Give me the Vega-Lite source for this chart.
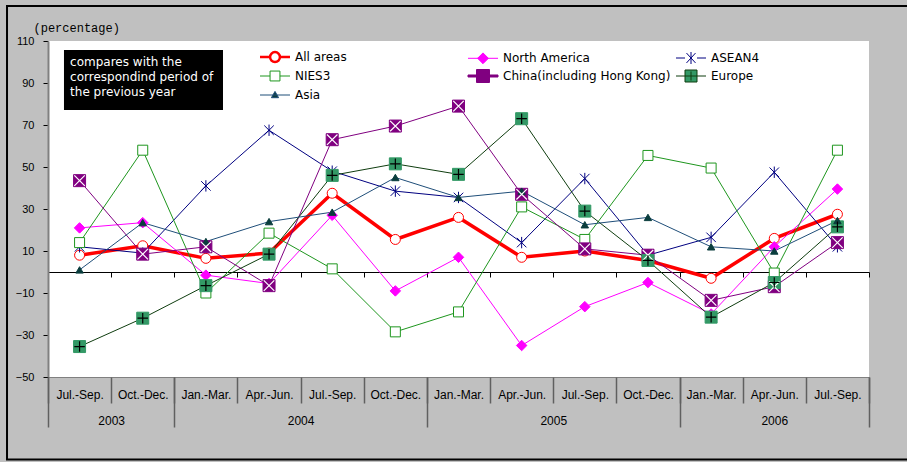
{
  "$schema": "https://vega.github.io/schema/vega-lite/v6.json",
  "width": 821,
  "height": 336,
  "autosize": {"type": "none"},
  "padding": {"left": 48, "top": 41, "right": 38, "bottom": 85},
  "background": "#c0c0c0",
  "config": {
    "view": {"fill": "white", "stroke": null},
    "axis": {"grid": false}
  },
  "data": {
    "values": [
      {"q": 1, "series": "All areas", "value": 8},
      {"q": 2, "series": "All areas", "value": 12.5},
      {"q": 3, "series": "All areas", "value": 6.5},
      {"q": 4, "series": "All areas", "value": 9},
      {"q": 5, "series": "All areas", "value": 37.5},
      {"q": 6, "series": "All areas", "value": 15.5},
      {"q": 7, "series": "All areas", "value": 26},
      {"q": 8, "series": "All areas", "value": 7},
      {"q": 9, "series": "All areas", "value": 10},
      {"q": 10, "series": "All areas", "value": 5.5},
      {"q": 11, "series": "All areas", "value": -3},
      {"q": 12, "series": "All areas", "value": 16},
      {"q": 13, "series": "All areas", "value": 27.5},
      {"q": 1, "series": "North America", "value": 21},
      {"q": 2, "series": "North America", "value": 23.5},
      {"q": 3, "series": "North America", "value": -1.5},
      {"q": 4, "series": "North America", "value": -5.5},
      {"q": 5, "series": "North America", "value": 27},
      {"q": 6, "series": "North America", "value": -9},
      {"q": 7, "series": "North America", "value": 7},
      {"q": 8, "series": "North America", "value": -35},
      {"q": 9, "series": "North America", "value": -16.5},
      {"q": 10, "series": "North America", "value": -5},
      {"q": 11, "series": "North America", "value": -20},
      {"q": 12, "series": "North America", "value": 12},
      {"q": 13, "series": "North America", "value": 39.5},
      {"q": 1, "series": "ASEAN4", "value": 12},
      {"q": 2, "series": "ASEAN4", "value": 9},
      {"q": 3, "series": "ASEAN4", "value": 41},
      {"q": 4, "series": "ASEAN4", "value": 67.5},
      {"q": 5, "series": "ASEAN4", "value": 48},
      {"q": 6, "series": "ASEAN4", "value": 38.5},
      {"q": 7, "series": "ASEAN4", "value": 35.5},
      {"q": 8, "series": "ASEAN4", "value": 14},
      {"q": 9, "series": "ASEAN4", "value": 44.5},
      {"q": 10, "series": "ASEAN4", "value": 8},
      {"q": 11, "series": "ASEAN4", "value": 16.5},
      {"q": 12, "series": "ASEAN4", "value": 47.5},
      {"q": 13, "series": "ASEAN4", "value": 12},
      {"q": 1, "series": "NIES3", "value": 14},
      {"q": 2, "series": "NIES3", "value": 58},
      {"q": 3, "series": "NIES3", "value": -10},
      {"q": 4, "series": "NIES3", "value": 18.5},
      {"q": 5, "series": "NIES3", "value": 1.5},
      {"q": 6, "series": "NIES3", "value": -28.5},
      {"q": 7, "series": "NIES3", "value": -19},
      {"q": 8, "series": "NIES3", "value": 31},
      {"q": 9, "series": "NIES3", "value": 15.5},
      {"q": 10, "series": "NIES3", "value": 55.5},
      {"q": 11, "series": "NIES3", "value": 49.5},
      {"q": 12, "series": "NIES3", "value": -0.5},
      {"q": 13, "series": "NIES3", "value": 58},
      {"q": 1, "series": "China(including Hong Kong)", "value": 43.5},
      {"q": 2, "series": "China(including Hong Kong)", "value": 8.5},
      {"q": 3, "series": "China(including Hong Kong)", "value": 12},
      {"q": 4, "series": "China(including Hong Kong)", "value": -6.5},
      {"q": 5, "series": "China(including Hong Kong)", "value": 63},
      {"q": 6, "series": "China(including Hong Kong)", "value": 69.5},
      {"q": 7, "series": "China(including Hong Kong)", "value": 79},
      {"q": 8, "series": "China(including Hong Kong)", "value": 37},
      {"q": 9, "series": "China(including Hong Kong)", "value": 11},
      {"q": 10, "series": "China(including Hong Kong)", "value": 8},
      {"q": 11, "series": "China(including Hong Kong)", "value": -13.5},
      {"q": 12, "series": "China(including Hong Kong)", "value": -7},
      {"q": 13, "series": "China(including Hong Kong)", "value": 14},
      {"q": 1, "series": "Europe", "value": -35.5},
      {"q": 2, "series": "Europe", "value": -22},
      {"q": 3, "series": "Europe", "value": -6.5},
      {"q": 4, "series": "Europe", "value": 8.5},
      {"q": 5, "series": "Europe", "value": 46},
      {"q": 6, "series": "Europe", "value": 51.5},
      {"q": 7, "series": "Europe", "value": 46.5},
      {"q": 8, "series": "Europe", "value": 73},
      {"q": 9, "series": "Europe", "value": 29},
      {"q": 10, "series": "Europe", "value": 5.5},
      {"q": 11, "series": "Europe", "value": -21.5},
      {"q": 12, "series": "Europe", "value": -5},
      {"q": 13, "series": "Europe", "value": 21.5},
      {"q": 1, "series": "Asia", "value": 1},
      {"q": 2, "series": "Asia", "value": 23.5},
      {"q": 3, "series": "Asia", "value": 14.5},
      {"q": 4, "series": "Asia", "value": 24},
      {"q": 5, "series": "Asia", "value": 28.5},
      {"q": 6, "series": "Asia", "value": 45},
      {"q": 7, "series": "Asia", "value": 35.5},
      {"q": 8, "series": "Asia", "value": 38.5},
      {"q": 9, "series": "Asia", "value": 22.5},
      {"q": 10, "series": "Asia", "value": 26},
      {"q": 11, "series": "Asia", "value": 12},
      {"q": 12, "series": "Asia", "value": 10},
      {"q": 13, "series": "Asia", "value": 24.5}
    ]
  },
  "resolve": {"axis": {"x": "independent", "y": "independent"}},
  "layer": [
    {
      "mark": {"type": "line"},
      "encoding": {
        "x": {
          "field": "q", "type": "quantitative",
          "scale": {"domain": [0.5, 13.5], "nice": false, "zero": false},
          "axis": {
            "orient": "bottom", "title": null,
            "values": [1, 2, 3, 4, 5, 6, 7, 8, 9, 10, 11, 12, 13],
            "labelExpr": "['Jan.-Mar.','Apr.-Jun.','Jul.-Sep.','Oct.-Dec.'][(datum.value + 1) % 4]",
            "ticks": false, "tickSize": 0,
            "domain": true, "domainColor": "#808080", "domainWidth": 1,
            "labelPadding": 12, "labelFont": "Liberation Sans", "labelFontSize": 12,
            "labelColor": "black", "labelFlush": false, "labelOverlap": false, "labelBound": false
          }
        },
        "y": {
          "field": "value", "type": "quantitative",
          "scale": {"domain": [-50, 110], "nice": false, "zero": false},
          "axis": {
            "orient": "left",
            "values": [-50, -30, -10, 10, 30, 50, 70, 90, 110],
            "title": "(percentage)", "titleAngle": 0, "titleAlign": "left", "titleBaseline": "middle",
            "titleX": -15, "titleY": -14, "titleFont": "Liberation Mono", "titleFontSize": 12,
            "titleFontWeight": "normal", "titleColor": "black",
            "tickSize": 5, "tickColor": "black",
            "domainColor": "#808080", "domainWidth": 2,
            "labelFont": "Liberation Sans", "labelFontSize": 11, "labelColor": "black", "labelPadding": 9
          }
        },
        "color": {
          "field": "series", "type": "nominal",
          "scale": {
            "domain": ["All areas", "North America", "ASEAN4", "NIES3", "China(including Hong Kong)", "Europe", "Asia"],
            "range": ["#ff0000", "#ff00ff", "#000080", "#1e961e", "#800080", "#0f3d0f", "#1f4e79"]
          },
          "legend": {
            "orient": "none", "legendX": 221, "legendY": 10, "title": null, "direction": "horizontal",
            "columns": 3, "gridAlign": "all", "columnPadding": 3, "rowPadding": 0, "padding": 0,
            "symbolSize": 900, "labelOffset": 14, "labelLimit": 300,
            "labelFont": "DejaVu Sans", "labelFontSize": 12, "labelColor": "black",
            "encode": {
              "symbols": {
                "update": {
                  "shape": {"signal": "{'All areas':'M-1,0H-0.33M0.33,0H1M-0.33,0A0.33,0.33 0 1,0 0.33,0A0.33,0.33 0 1,0 -0.33,0Z','North America':'M-1,0H1M0,-0.36L0.36,0L0,0.36L-0.36,0Z','ASEAN4':'M-1,0H-0.4M0.4,0H1M-0.3,-0.33L0.3,0.33M-0.3,0.33L0.3,-0.33M0,-0.4V0.4','NIES3':'M-1,0H-0.33M0.33,0H1M-0.33,-0.33H0.33V0.33H-0.33Z','China(including Hong Kong)':'M-1,-0.067H-0.44V0.067H-1ZM0.44,-0.067H1V0.067H0.44ZM-0.433,-0.433H0.433V0.433H-0.433ZM-0.3,-0.3L0.3,0.3M-0.3,0.3L0.3,-0.3','Europe':'M-1,0H1M-0.4,-0.4H0.4V0.4H-0.4ZM0,-0.3V0.3','Asia':'M-1,0H1M0,-0.24L0.24,0.18H-0.24Z'}[datum.value]"},
                  "fill": {"signal": "{'All areas':'white','North America':'#ff00ff','ASEAN4':'transparent','NIES3':'white','China(including Hong Kong)':'#800080','Europe':'#339966','Asia':'#0a3d3d'}[datum.value]"},
                  "stroke": {"signal": "datum.value === 'China(including Hong Kong)' ? 'white' : scale('color', datum.value)"},
                  "strokeWidth": {"signal": "datum.value === 'All areas' ? 2.5 : 1"},
                  "opacity": {"value": 1}
                }
              }
            }
          }
        },
        "strokeWidth": {"condition": {"test": "datum.series === 'All areas'", "value": 3.5}, "value": 1}
      }
    },
    {
      "mark": {"type": "point", "opacity": 1, "strokeWidth": 1},
      "encoding": {
        "x": {
          "field": "q", "type": "quantitative",
          "axis": {
            "orient": "bottom", "title": null,
            "values": [0.5, 1.5, 2.5, 3.5, 4.5, 5.5, 6.5, 7.5, 8.5, 9.5, 10.5, 11.5, 12.5, 13.5],
            "labels": false, "domain": false, "ticks": true, "tickSize": 26,
            "tickColor": "#606060", "tickWidth": 1.5
          }
        },
        "y": {"field": "value", "type": "quantitative", "axis": null},
        "shape": {
          "condition": [
            {"test": "datum.series === 'All areas'", "value": "circle"},
            {"test": "datum.series === 'North America'", "value": "diamond"},
            {"test": "datum.series === 'ASEAN4'", "value": "M-1,-1L1,1M-1,1L1,-1M0,-1.2L0,1.2"},
            {"test": "datum.series === 'Asia'", "value": "triangle-up"}
          ],
          "value": "square"
        },
        "size": {
          "condition": [
            {"test": "datum.series === 'All areas'", "value": 100},
            {"test": "datum.series === 'North America'", "value": 110},
            {"test": "datum.series === 'ASEAN4'", "value": 90},
            {"test": "datum.series === 'NIES3'", "value": 100},
            {"test": "datum.series === 'Asia'", "value": 55}
          ],
          "value": 144
        },
        "fill": {
          "condition": [
            {"test": "datum.series === 'All areas'", "value": "white"},
            {"test": "datum.series === 'North America'", "value": "#ff00ff"},
            {"test": "datum.series === 'ASEAN4'", "value": "transparent"},
            {"test": "datum.series === 'NIES3'", "value": "white"},
            {"test": "datum.series === 'China(including Hong Kong)'", "value": "#800080"},
            {"test": "datum.series === 'Europe'", "value": "#339966"}
          ],
          "value": "#0a3d3d"
        },
        "stroke": {
          "condition": [
            {"test": "datum.series === 'All areas'", "value": "#ff0000"},
            {"test": "datum.series === 'North America'", "value": "#ff00ff"},
            {"test": "datum.series === 'ASEAN4'", "value": "#000080"},
            {"test": "datum.series === 'NIES3'", "value": "#1e961e"},
            {"test": "datum.series === 'China(including Hong Kong)'", "value": "#800080"},
            {"test": "datum.series === 'Europe'", "value": "#339966"}
          ],
          "value": "#0a3d3d"
        }
      }
    },
    {
      "transform": [{"filter": "datum.series === 'China(including Hong Kong)' || datum.series === 'Europe'"}],
      "mark": {"type": "point", "opacity": 1, "strokeWidth": 1.2, "fill": "transparent", "size": 110},
      "encoding": {
        "x": {
          "field": "q", "type": "quantitative",
          "axis": {
            "orient": "bottom", "title": null,
            "values": [1.5, 4.5, 8.5, 12],
            "labelExpr": "datum.value < 2 ? '2003' : datum.value < 5 ? '2004' : datum.value < 9 ? '2005' : '2006'",
            "ticks": false, "tickSize": 0, "domain": false,
            "labelPadding": 38, "labelFont": "Liberation Sans", "labelFontSize": 12,
            "labelColor": "black", "labelFlush": false, "labelOverlap": false, "labelBound": false
          }
        },
        "y": {"field": "value", "type": "quantitative", "axis": null},
        "shape": {
          "condition": {"test": "datum.series === 'Europe'", "value": "M-1,0L1,0M0,-1L0,1"},
          "value": "M-1,-1L1,1M-1,1L1,-1"
        },
        "stroke": {"condition": {"test": "datum.series === 'Europe'", "value": "black"}, "value": "white"}
      }
    },
    {
      "data": {"values": [{}]},
      "mark": {"type": "rect", "color": "black"},
      "encoding": {
        "x": {
          "datum": 0.753, "type": "quantitative",
          "axis": {
            "orient": "bottom", "title": null,
            "values": [0.5, 2.5, 6.5, 10.5, 13.5],
            "labels": false, "domain": false, "ticks": true, "tickSize": 50,
            "tickColor": "#606060", "tickWidth": 1.5
          }
        },
        "x2": {"datum": 3.271},
        "y": {"datum": 105.7, "type": "quantitative", "axis": null},
        "y2": {"datum": 77.1}
      }
    },
    {
      "data": {"values": [{}]},
      "mark": {
        "type": "text", "align": "left", "baseline": "top", "color": "white",
        "font": "DejaVu Sans", "fontSize": 12, "lineHeight": 15
      },
      "encoding": {
        "x": {
          "datum": 0.85, "type": "quantitative",
          "axis": {
            "orient": "bottom", "title": null, "offset": -105,
            "values": [0.5, 1.5, 2.5, 3.5, 4.5, 5.5, 6.5, 7.5, 8.5, 9.5, 10.5, 11.5, 12.5, 13.5],
            "labels": false, "domain": true, "domainColor": "black", "domainWidth": 1,
            "ticks": true, "tickSize": 5, "tickColor": "black", "tickWidth": 1
          }
        },
        "y": {"datum": 102.6, "type": "quantitative", "axis": null},
        "text": {"value": ["compares with the", "correspondind period of", "the previous year"]}
      }
    },
    {
      "data": {"values": [{}]},
      "mark": {"type": "rect", "fillOpacity": 0, "stroke": "black", "strokeWidth": 2},
      "encoding": {
        "x": {"datum": -0.149, "type": "quantitative", "axis": null},
        "x2": {"datum": 15},
        "y": {"datum": 126.67, "type": "quantitative", "axis": null},
        "y2": {"datum": -89.3}
      }
    }
  ]
}
